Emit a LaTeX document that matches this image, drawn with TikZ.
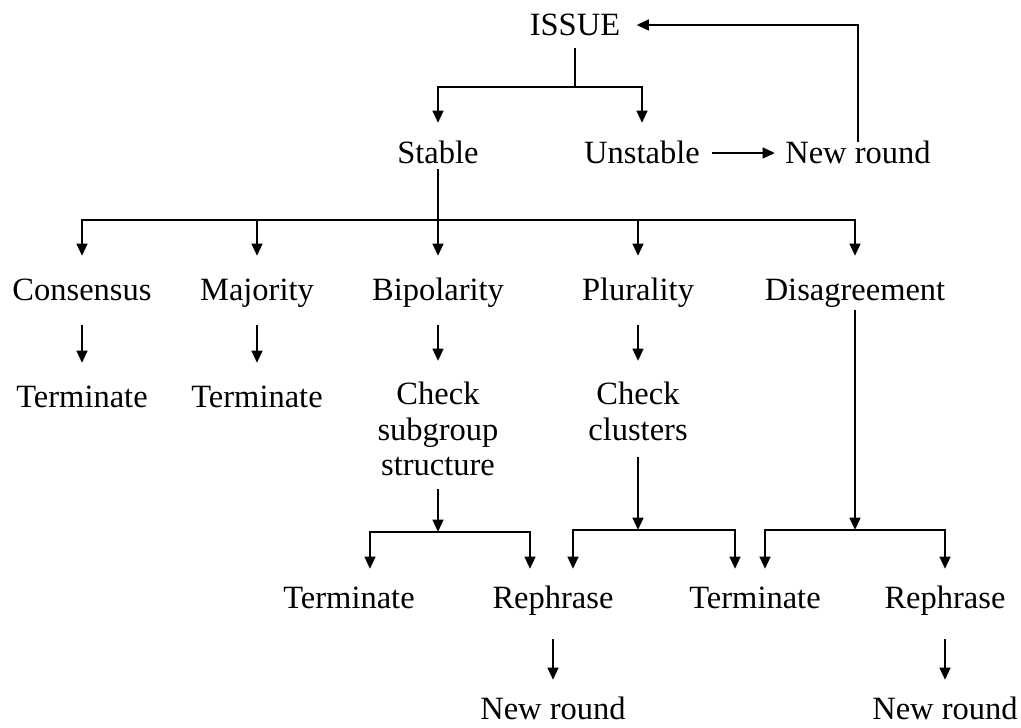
\documentclass[tikz,border=0pt]{standalone}
\usepackage{fontspec}
\setmainfont{Liberation Serif}
\usepackage{tikz}
\usetikzlibrary{arrows.meta}

\begin{document}
\begin{tikzpicture}[
        x=0.02cm, y=-0.02cm,
        txt/.style={inner sep=0pt, font=\fontsize{18.5}{20}\selectfont, text height=12.2pt, text depth=0pt},
        txtmulti/.style={inner sep=0pt, font=\fontsize{18.5}{20}\selectfont, align=center, anchor=north},
        conn/.style={line width=1.5pt},
        arrow/.style={-{Triangle[length=7pt, width=6pt]}, line width=1.5pt}
        ]
        \useasboundingbox (0,0) rectangle (1021,727);

        % Issue and first split
        \node (issue) [txt] at (575,25) {ISSUE};
        \node (stable) [txt] at (438,153) {Stable};
        \node (unstable) [txt] at (642,153) {Unstable};
        \node (newround) [txt] at (858,153) {New round};

        \coordinate (issue-split) at (575,87);
        \draw [conn, shorten <=0.24cm] (issue) -- (issue-split);
        \draw [arrow, shorten >=0.38cm] (issue-split) -| (stable);
        \draw [arrow, shorten >=0.38cm] (issue-split) -| (unstable);
        \draw [arrow, shorten <=0.24cm, shorten >=0.2cm] (unstable) -- (newround);
        \draw [arrow, shorten >=0.32cm] (newround) |- (issue);

        % Outcomes of a stable round
        \node (consensus) [txt] at (82,290) {Consensus};
        \node (majority) [txt] at (257,290) {Majority};
        \node (bipolarity) [txt] at (438,290) {Bipolarity};
        \node (plurality) [txt] at (638,290) {Plurality};
        \node (disagreement) [txt] at (855,290) {Disagreement};

        \coordinate (stable-split) at (438,220);
        \draw [conn, shorten <=0.1cm] (stable) -- (stable-split);
        \draw [arrow, shorten >=0.46cm] (stable-split) -| (consensus);
        \draw [arrow, shorten >=0.46cm] (stable-split) -| (majority);
        \draw [arrow, shorten >=0.46cm] (stable-split) -- (bipolarity);
        \draw [arrow, shorten >=0.46cm] (stable-split) -| (plurality);
        \draw [arrow, shorten >=0.46cm] (stable-split) -| (disagreement);

        % Next step per outcome
        \node (term1) [txt] at (82,397) {Terminate};
        \node (term2) [txt] at (257,397) {Terminate};
        \node (check1) [txtmulti] at (438,382) {Check\\subgroup\\structure};
        \node (check2) [txtmulti] at (638,382) {Check\\clusters};

        \draw [arrow, shorten <=0.48cm, shorten >=0.46cm] (consensus) -- (term1);
        \draw [arrow, shorten <=0.48cm, shorten >=0.46cm] (majority) -- (term2);
        \draw [arrow, shorten <=0.48cm, shorten >=0.42cm] (bipolarity) -- (check1);
        \draw [arrow, shorten <=0.48cm, shorten >=0.42cm] (plurality) -- (check2);

        % Second splits
        \node (term3) [txt] at (349,598) {Terminate};
        \node (reph1) [txt] at (553,598) {Rephrase};
        \node (term4) [txt] at (755,598) {Terminate};
        \node (reph2) [txt] at (945,598) {Rephrase};

        \coordinate (check1-split) at (438,532);
        \coordinate (check2-split) at (638,530);
        \coordinate (disagree-split) at (855,530);
        \draw [arrow, shorten <=0.26cm] (check1) -- (check1-split);
        \draw [arrow, shorten <=0.32cm] (check2) -- (check2-split);
        \draw [arrow, shorten <=0.17cm] (disagreement) -- (disagree-split);

        \draw [arrow, shorten >=0.36cm] (check1-split) -| ([xshift=0.42cm]term3.north);
        \draw [arrow, shorten >=0.36cm] (check1-split) -| ([xshift=-0.46cm]reph1.north);
        \draw [arrow, shorten >=0.36cm] (check2-split) -| ([xshift=0.4cm]reph1.north);
        \draw [arrow, shorten >=0.36cm] (check2-split) -| ([xshift=-0.4cm]term4.north);
        \draw [arrow, shorten >=0.36cm] (disagree-split) -| ([xshift=0.2cm]term4.north);
        \draw [arrow, shorten >=0.36cm] (disagree-split) -| (reph2);

        % New rounds after rephrasing
        \node (newround2) [txt] at (553,709) {New round};
        \node (newround3) [txt] at (945,709) {New round};

        \draw [arrow, shorten <=0.6cm, shorten >=0.36cm] (reph1) -- (newround2);
        \draw [arrow, shorten <=0.6cm, shorten >=0.36cm] (reph2) -- (newround3);

    \end{tikzpicture}
\end{document}
